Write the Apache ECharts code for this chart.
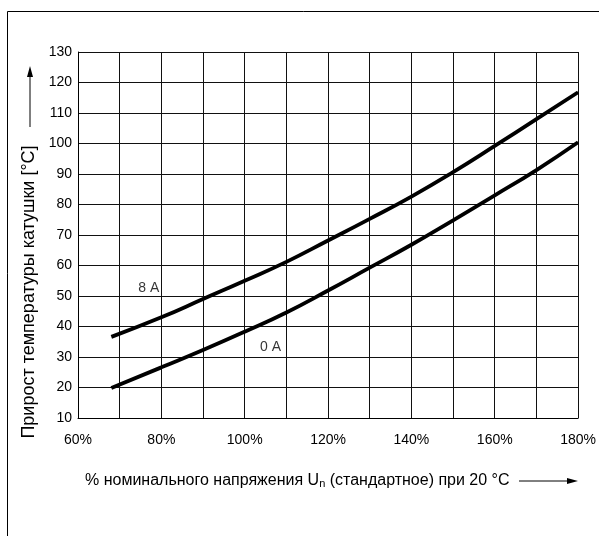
<!DOCTYPE html>
<html>
<head>
<meta charset="utf-8">
<script src="https://cdn.jsdelivr.net/npm/echarts@6/dist/echarts.min.js"></script>
<style>
html,body{margin:0;padding:0;background:#fff;}
#main{width:599px;height:536px;}
</style>
</head>
<body>
<div id="main"></div>
<script>
var voltagePct = [68, 80, 90, 100, 110, 120, 130, 140, 150, 160, 170, 180];
var rise8A = [36.6, 43.0, 49.0, 55.0, 61.2, 68.2, 75.3, 82.6, 90.6, 99.2, 108.0, 116.8];
var rise0A = [19.8, 26.6, 32.3, 38.3, 44.6, 51.8, 59.3, 66.8, 74.8, 83.0, 91.3, 100.4];
var curveLabels = ['8 A', '0 A'];
var curveLabelPos = [[77, 52.5], [106.2, 33.3]];
var xTickLabels = [60, 80, 100, 120, 140, 160, 180];

function pairs(xs, ys) { return xs.map(function (x, i) { return [x, ys[i]]; }); }

var chart = echarts.init(document.getElementById('main'));
var FONT = '"Liberation Sans", Arial, sans-serif';
chart.setOption({
  animation: false,
  backgroundColor: '#fff',
  grid: { left: 78, right: 20, top: 52, bottom: 118 },
  xAxis: {
    type: 'value', min: 60, max: 180, interval: 10,
    axisLine: { show: true, lineStyle: { color: '#000', width: 1 } },
    axisTick: { show: false },
    splitLine: { show: true, lineStyle: { color: '#111', width: 1 } },
    axisLabel: {
      color: '#000', fontSize: 14, fontFamily: FONT, margin: 15,
      formatter: function (v) { return xTickLabels.indexOf(v) >= 0 ? v + '%' : ''; }
    }
  },
  yAxis: {
    type: 'value', min: 10, max: 130, interval: 10,
    axisLine: { show: true, lineStyle: { color: '#000', width: 1 } },
    axisTick: { show: false },
    splitLine: { show: true, lineStyle: { color: '#111', width: 1 } },
    axisLabel: { color: '#000', fontSize: 14, fontFamily: FONT, margin: 6 }
  },
  series: [
    { type: 'line', data: pairs(voltagePct, rise8A), smooth: true, symbol: 'none',
      lineStyle: { color: '#000', width: 3.8 } },
    { type: 'line', data: pairs(voltagePct, rise0A), smooth: true, symbol: 'none',
      lineStyle: { color: '#000', width: 3.8 } },
    { type: 'scatter', symbolSize: 0,
      data: curveLabelPos.map(function (p, i) { return { value: p, name: curveLabels[i] }; }),
      label: { show: true, position: 'inside', formatter: '{b}', color: '#000', fontSize: 14, fontFamily: FONT } }
  ],
  graphic: [
    { type: 'polyline', shape: { points: [[7.5, 536], [7.5, 11.5], [599, 11.5]] },
      style: { stroke: '#000', lineWidth: 1, fill: null } },
    { type: 'text', x: 29, y: 292, rotation: Math.PI / 2,
      style: { text: 'Прирост температуры катушки [°C]', fill: '#000', font: '18px ' + FONT,
        align: 'center', verticalAlign: 'middle' } },
    { type: 'line', shape: { x1: 30, y1: 127, x2: 30, y2: 74 }, style: { stroke: '#000', lineWidth: 1 } },
    { type: 'polygon', shape: { points: [[30, 66], [27, 77], [33, 77]] }, style: { fill: '#000' } },
    { type: 'text', x: 85, y: 481,
      style: { text: '% номинального напряжения U{sub|n} (стандартное) при 20 °C', fill: '#000',
        font: '16px ' + FONT, align: 'left', verticalAlign: 'middle',
        rich: { sub: { fontSize: 11, fontFamily: FONT, fill: '#000', padding: [6, 0, 0, 0] } } } },
    { type: 'line', shape: { x1: 519, y1: 481, x2: 570, y2: 481 }, style: { stroke: '#000', lineWidth: 1 } },
    { type: 'polygon', shape: { points: [[578, 481], [567, 478], [567, 484]] }, style: { fill: '#000' } }
  ]
});
</script>
</body>
</html>
